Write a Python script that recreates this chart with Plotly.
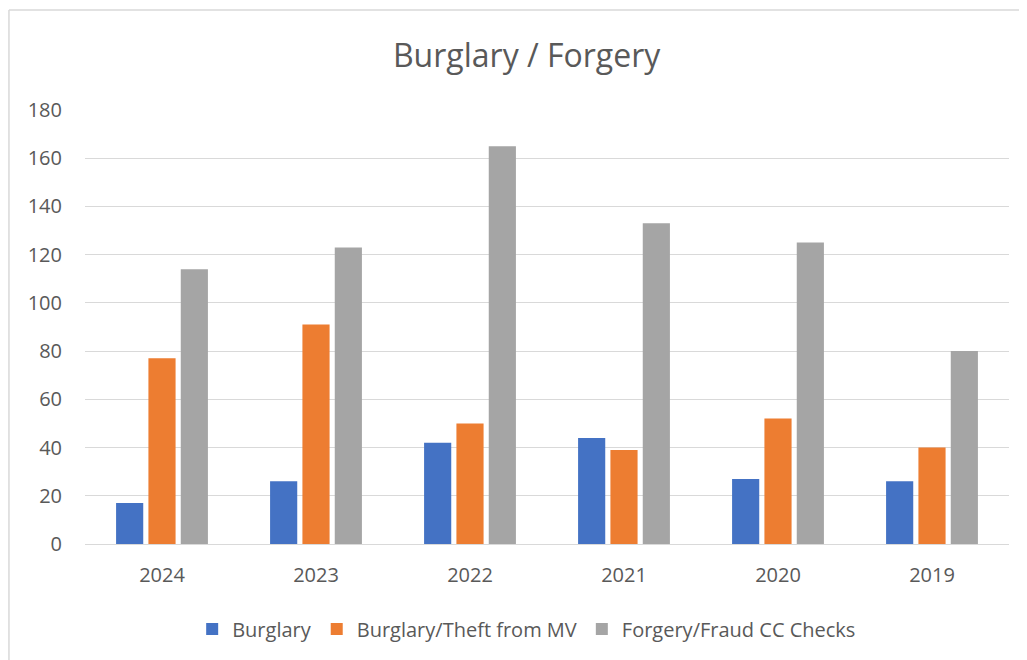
import plotly.graph_objects as go

years = ["2024", "2023", "2022", "2021", "2020", "2019"]
burglary = [17, 26, 42, 44, 27, 26]
theft_mv = [77, 91, 50, 39, 52, 40]
forgery = [114, 123, 165, 133, 125, 80]
y_ticks = [0, 20, 40, 60, 80, 100, 120, 140, 160, 180]

series = [
    ("Burglary", burglary, "#4472C4"),
    ("Burglary/Theft from MV", theft_mv, "#ED7D31"),
    ("Forgery/Fraud CC Checks", forgery, "#A5A5A5"),
]

fig = go.Figure()
for name, vals, col in series:
    fig.add_trace(go.Bar(x=years, y=vals, name=name, marker=dict(color=col, line=dict(width=0))))

font = "Open Sans, Noto Sans, sans-serif"
fig.update_layout(
    width=1027, height=660,
    margin=dict(l=77, r=26, t=102, b=124),
    paper_bgcolor="white", plot_bgcolor="white",
    barmode="group", bargap=0.37, bargroupgap=0.16,
    title=dict(text="Burglary / Forgery", x=0.505, xanchor="center", y=0.928, yanchor="middle",
               font=dict(family=font, size=32, color="#595959")),
    font=dict(family=font, size=20, color="#595959"),
    legend=dict(orientation="h", x=0.478, xanchor="center", y=-0.196, yanchor="middle",
                font=dict(size=20, color="#595959"), itemwidth=30, traceorder="normal"),
    xaxis=dict(showgrid=False, showline=True, linecolor="#D9D9D9", linewidth=1,
               tickfont=dict(size=20, color="#595959"),
               ticks="outside", ticklen=13, tickcolor="rgba(0,0,0,0)"),
    yaxis=dict(range=[0, 180], tickvals=y_ticks, showgrid=True, gridcolor="#D9D9D9", gridwidth=1,
               zeroline=False, showline=False, tickfont=dict(size=20, color="#595959"),
               ticks="outside", ticklen=18, tickcolor="rgba(0,0,0,0)"),
    shapes=[
        dict(type="line", xref="paper", yref="paper", x0=-0.0823, x1=1.05, y0=1.2304, y1=1.2304,
             line=dict(color="#D9D9D9", width=1.5)),
        dict(type="line", xref="paper", yref="paper", x0=-0.0823, x1=-0.0823, y0=1.2304, y1=-0.3,
             line=dict(color="#D9D9D9", width=1.5)),
    ],
)

fig.write_html("out.html")
